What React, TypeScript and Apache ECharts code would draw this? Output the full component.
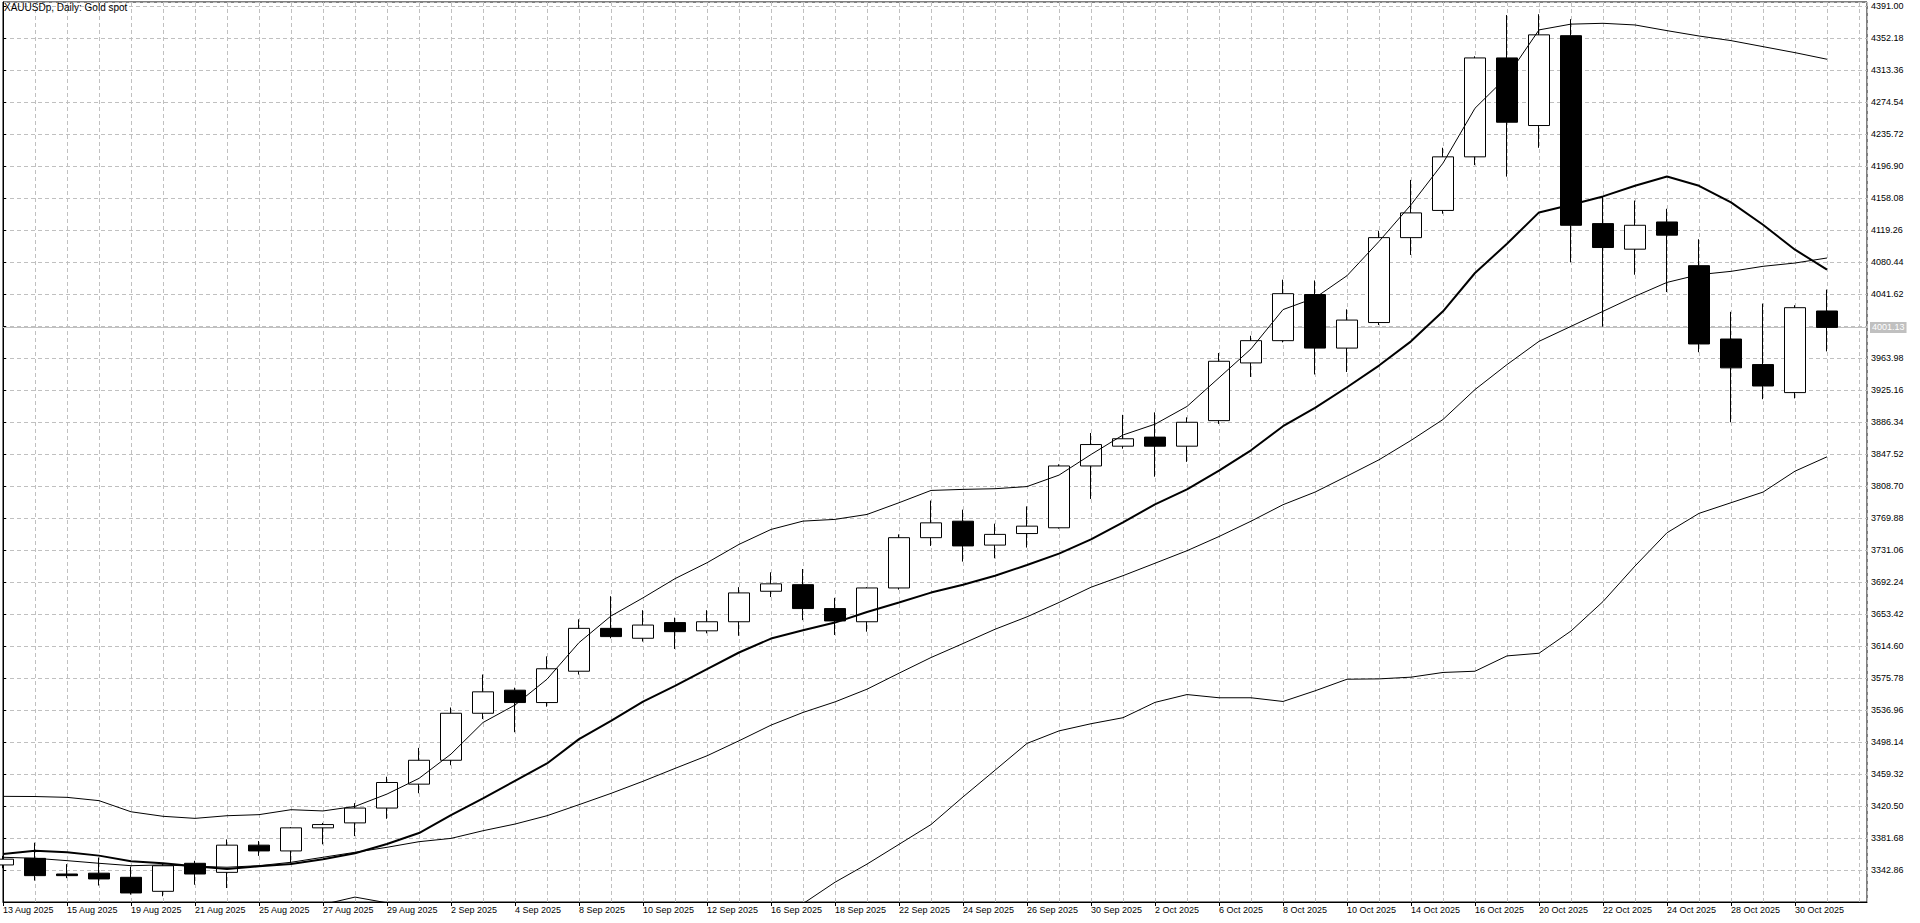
import React, { useEffect, useRef } from "react";
import * as echarts from "echarts";

const TITLE = "XAUUSDp, Daily: Gold spot";

const DATES = [
  "13 Aug 2025", "14 Aug 2025", "15 Aug 2025", "18 Aug 2025", "19 Aug 2025", "20 Aug 2025",
  "21 Aug 2025", "22 Aug 2025", "25 Aug 2025", "26 Aug 2025", "27 Aug 2025", "28 Aug 2025",
  "29 Aug 2025", "1 Sep 2025", "2 Sep 2025", "3 Sep 2025", "4 Sep 2025", "5 Sep 2025",
  "8 Sep 2025", "9 Sep 2025", "10 Sep 2025", "11 Sep 2025", "12 Sep 2025", "15 Sep 2025",
  "16 Sep 2025", "17 Sep 2025", "18 Sep 2025", "19 Sep 2025", "22 Sep 2025", "23 Sep 2025",
  "24 Sep 2025", "25 Sep 2025", "26 Sep 2025", "29 Sep 2025", "30 Sep 2025", "1 Oct 2025",
  "2 Oct 2025", "3 Oct 2025", "6 Oct 2025", "7 Oct 2025", "8 Oct 2025", "9 Oct 2025",
  "10 Oct 2025", "13 Oct 2025", "14 Oct 2025", "15 Oct 2025", "16 Oct 2025", "17 Oct 2025",
  "20 Oct 2025", "21 Oct 2025", "22 Oct 2025", "23 Oct 2025", "24 Oct 2025", "27 Oct 2025",
  "28 Oct 2025", "29 Oct 2025", "30 Oct 2025", "31 Oct 2025",
];

const OPEN = [
  3349, 3357, 3338, 3339, 3334, 3317, 3351, 3340, 3373, 3366, 3394, 3400, 3418, 3447, 3476,
  3533, 3561, 3546, 3584, 3636, 3624, 3643, 3633, 3644, 3681, 3689, 3660, 3644, 3685, 3746,
  3766, 3737, 3751, 3758, 3833, 3857, 3868, 3857, 3888, 3958, 3985, 4041, 3976, 4007, 4110,
  4143, 4208, 4328, 4246, 4355, 4127, 4096, 4129, 4076, 3987, 3956, 3922, 4021,
];
const CLOSE = [
  3356, 3336, 3336, 3332, 3315, 3348, 3338, 3373, 3366, 3394, 3398, 3418, 3449, 3476, 3533,
  3559, 3546, 3587, 3636, 3626, 3640, 3632, 3644, 3679, 3690, 3660, 3645, 3685, 3746, 3764,
  3736, 3750, 3760, 3833, 3859, 3866, 3857, 3886, 3960, 3985, 4042, 3976, 4010, 4110, 4140,
  4208, 4328, 4250, 4356, 4125, 4098, 4125, 4113, 3981, 3952, 3930, 4025, 4001.13,
];
const HIGH = [
  3360, 3376, 3350, 3358, 3347, 3350, 3354, 3380, 3378, 3395, 3400, 3424, 3456, 3491, 3540,
  3580, 3564, 3602, 3647, 3675, 3658, 3649, 3658, 3686, 3704, 3708, 3673, 3686, 3750, 3791,
  3780, 3763, 3784, 3835, 3873, 3895, 3898, 3892, 3970, 3991, 4059, 4058, 4023, 4118, 4180,
  4219, 4330, 4380, 4381, 4375, 4160, 4155, 4145, 4108, 4020, 4030, 4028, 4047,
];
const LOW = [
  3345, 3330, 3333, 3324, 3313, 3311, 3325, 3321, 3360, 3351, 3374, 3384, 3405, 3436, 3470,
  3526, 3510, 3541, 3580, 3624, 3620, 3611, 3630, 3627, 3674, 3646, 3628, 3632, 3683, 3736,
  3717, 3721, 3734, 3757, 3793, 3854, 3820, 3838, 3884, 3941, 3983, 3944, 3947, 4004, 4089,
  4139, 4198, 4184, 4219, 4080, 4002, 4065, 4044, 3971, 3886, 3914, 3915, 3972,
];

// thick moving average
const MA_THICK = [
  3362.3, 3366.3, 3364.3, 3360.3, 3353.4, 3351.0, 3347.4, 3344.1, 3347.4, 3350.2, 3356.0,
  3363.1, 3374.4, 3387.7, 3409.5, 3429.8, 3451.0, 3472.1, 3501.6, 3523.8, 3547.0, 3566.2,
  3586.5, 3606.7, 3623.6, 3633.7, 3643.0, 3655.9, 3667.3, 3679.4, 3689.0, 3699.9, 3712.8,
  3726.6, 3743.9, 3764.7, 3786.4, 3804.6, 3827.4, 3852.0, 3881.2, 3903.5, 3928.5, 3954.8,
  3984.2, 4020.6, 4067.1, 4102.6, 4140.6, 4150.0, 4160.0, 4172.9, 4184.2, 4172.9, 4152.7,
  4125.6, 4095.4, 4071.1,
];
// Bollinger bands
const BB_MID = [
  3358.3, 3357.1, 3354.2, 3351.0, 3348.1, 3349.0, 3347.4, 3346.2, 3348.1, 3352.2, 3358.3,
  3364.3, 3370.4, 3377.2, 3381.2, 3390.5, 3398.6, 3408.7, 3422.1, 3435.8, 3450.5, 3466.1,
  3481.4, 3499.6, 3518.6, 3534.0, 3546.8, 3562.2, 3581.6, 3600.6, 3617.6, 3634.9, 3650.0,
  3667.4, 3685.9, 3699.9, 3715.0, 3730.2, 3747.4, 3766.0, 3786.0, 3801.3, 3820.7, 3840.5,
  3864.0, 3889.4, 3925.7, 3956.0, 3984.2, 4002.4, 4020.6, 4038.8, 4055.7, 4065.1, 4069.1,
  4075.2, 4079.2, 4085.3,
];
const BB_UP = [
  3432.2, 3432.0, 3431.0, 3427.0, 3413.5, 3408.0, 3405.5, 3408.7, 3410.0, 3416.0, 3414.5,
  3420.0, 3435.0, 3454.0, 3483.5, 3521.8, 3543.0, 3574.3, 3618.7, 3651.0, 3673.0, 3696.3,
  3715.6, 3737.9, 3756.0, 3766.1, 3768.2, 3774.2, 3788.4, 3803.3, 3804.6, 3805.4, 3808.0,
  3821.9, 3846.9, 3870.6, 3883.7, 3905.2, 3940.0, 3975.0, 4022.7, 4036.9, 4063.8, 4105.4,
  4149.9, 4200.4, 4267.0, 4305.3, 4362.0, 4369.0, 4370.0, 4368.0, 4361.1, 4354.6, 4349.0,
  4341.7, 4334.4, 4326.4,
];
const BB_LOW = [
  3284, 3282, 3277, 3275, 3283, 3290, 3289, 3284, 3286, 3288, 3301, 3310, 3303, 3300, 3279,
  3259, 3254, 3243, 3225, 3220, 3228, 3236, 3247, 3261, 3281, 3302, 3328, 3350, 3374, 3398,
  3431.5, 3463.9, 3496.4, 3511.6, 3520.3, 3527.6, 3546.2, 3555.7, 3551.8, 3551.8, 3547.3,
  3560.2, 3574.3, 3574.7, 3576.8, 3582.5, 3584.0, 3602.6, 3605.8, 3632.8, 3668.5, 3711.6,
  3752.0, 3775.5, 3788.4, 3801.3, 3826.7, 3844.1,
];

const LAST_PRICE = 4001.13;
// price scale: visible range and tick step
const Y_BOTTOM = 3304.04;
const Y_TOP = 4395.85;
const Y_STEP = 38.82;
const Y_SHIFT = 4.34; // shift so that the axis min is a multiple of the step
const X_RIGHT = 58.25; // empty space right of the last bar (in bars)

const FONT = "Liberation Sans";
const GRID_COLOR = "#c0c0c0";

const r2 = (v: number) => Math.round(v * 100) / 100;

export default function App() {
  const ref = useRef<HTMLDivElement>(null);

  useEffect(() => {
    if (!ref.current) return;
    const chart = echarts.init(ref.current, undefined, { renderer: "svg" });

    const sh = (v: number) => r2(v - Y_SHIFT);
    const candles = DATES.map((_, i) => [i, sh(OPEN[i]), sh(CLOSE[i]), sh(LOW[i]), sh(HIGH[i])]);
    const toLine = (arr: number[]) => arr.map((v, i) => [i, sh(v)]);
    const labelIdx = DATES.map((_, i) => i).filter((i) => i % 2 === 0);

    const lineSeries = (name: string, arr: number[], width: number) => ({
      name,
      type: "line",
      data: toLine(arr),
      showSymbol: false,
      symbol: "none",
      smooth: false,
      z: 3,
      lineStyle: { color: "#000", width },
      silent: true,
    });

    chart.setOption({
      animation: false,
      backgroundColor: "#fff",
      textStyle: { fontFamily: FONT, fontSize: 9 },
      graphic: [
        {
          type: "text",
          left: 4,
          top: 2,
          z: 10,
          style: { text: TITLE, fontFamily: FONT, fontSize: 10, fill: "#000" },
        },
      ],
      grid: {
        left: 3,
        right: 53,
        top: 2,
        bottom: 21,
        show: true,
        backgroundColor: "#fff",
        borderColor: "#000",
        borderWidth: 1,
      },
      xAxis: [
        {
          type: "value",
          min: 0,
          max: X_RIGHT,
          interval: 1,
          position: "bottom",
          axisLine: { show: true, lineStyle: { color: "#000", width: 1 } },
          axisTick: { show: false },
          axisLabel: { show: false },
          splitLine: { show: true, lineStyle: { color: GRID_COLOR, type: [4, 3], width: 1 } },
        },
        {
          type: "value",
          min: 0,
          max: X_RIGHT,
          position: "bottom",
          axisLine: { show: false },
          axisTick: {
            show: true,
            customValues: labelIdx,
            length: 4,
            inside: false,
            lineStyle: { color: "#000", width: 1 },
          },
          axisLabel: {
            show: true,
            customValues: labelIdx,
            formatter: (v: number) => DATES[Math.round(v)] ?? "",
            align: "left",
            margin: 3,
            color: "#000",
            fontFamily: FONT,
            fontSize: 9,
            hideOverlap: false,
          },
          splitLine: { show: false },
        },
      ],
      yAxis: {
        type: "value",
        position: "right",
        min: sh(Y_BOTTOM),
        max: sh(Y_TOP),
        interval: Y_STEP,
        axisLine: { show: true, lineStyle: { color: "#000", width: 1 } },
        axisTick: { show: true, length: 3, inside: false, lineStyle: { color: "#000" } },
        axisLabel: {
          show: true,
          formatter: (v: number) => (v + Y_SHIFT).toFixed(2),
          showMinLabel: false,
          showMaxLabel: false,
          margin: 4,
          color: "#000",
          fontFamily: FONT,
          fontSize: 9,
        },
        splitLine: { show: true, lineStyle: { color: GRID_COLOR, type: [4, 3], width: 1 } },
      },
      series: [
        {
          name: "XAUUSDp",
          type: "candlestick",
          xAxisIndex: 0,
          data: candles,
          barWidth: 22,
          z: 2,
          silent: true,
          itemStyle: {
            color: "#fff",
            color0: "#000",
            borderColor: "#000",
            borderColor0: "#000",
            borderWidth: 1,
          },
          markLine: {
            silent: true,
            z: 1,
            symbol: ["none", "none"],
            animation: false,
            lineStyle: { color: GRID_COLOR, type: "solid", width: 1 },
            label: {
              show: true,
              position: "end",
              formatter: () => LAST_PRICE.toFixed(2),
              color: "#fff",
              backgroundColor: GRID_COLOR,
              padding: [1, 2, 1, 2],
              distance: 3,
              fontFamily: FONT,
              fontSize: 9,
            },
            data: [{ yAxis: sh(LAST_PRICE) }],
          },
        },
        lineSeries("BB upper", BB_UP, 1),
        lineSeries("BB middle", BB_MID, 1),
        lineSeries("BB lower", BB_LOW, 1),
        lineSeries("MA", MA_THICK, 2),
      ],
    });

    return () => {
      chart.dispose();
    };
  }, []);

  return (
    <div
      ref={ref}
      style={{ position: "fixed", left: 0, top: 0, width: 1920, height: 923, background: "#fff" }}
    />
  );
}
